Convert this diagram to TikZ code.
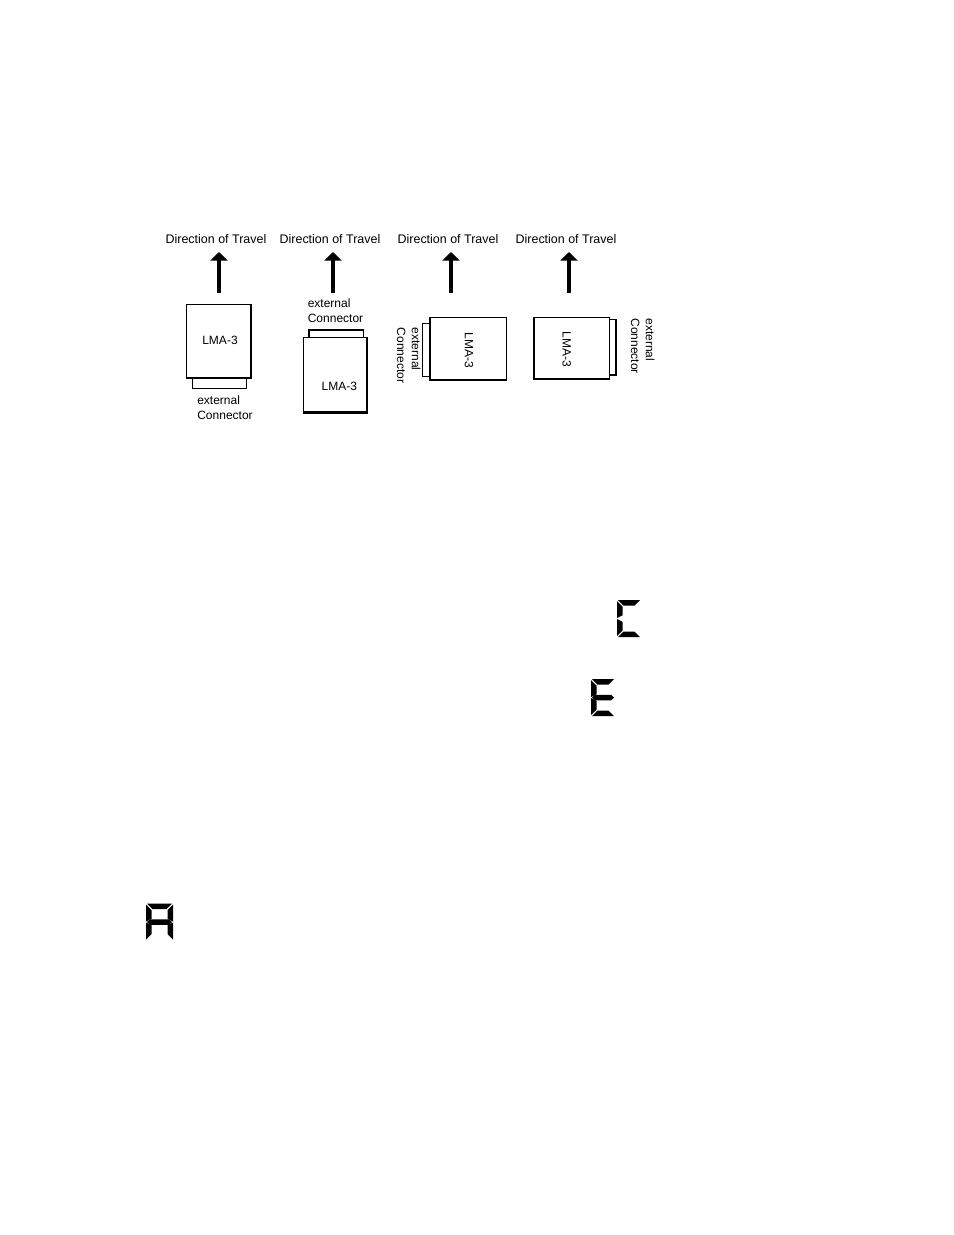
\documentclass[tikz,border=0pt]{standalone}
\usepackage{fontspec}
\setmainfont{Liberation Sans}
\usetikzlibrary{arrows.meta}
\tikzset{
    travel/.style={line width=2.1pt,-{Triangle[length=5.5pt,width=11pt]}},
    caption/.style={font=\fontsize{8}{9.6}\selectfont,inner sep=0pt},
    conntext/.style={font=\fontsize{7.7}{9.6}\selectfont,inner sep=0pt,align=left},
    housing/.style={draw=black,fill=white,line width=0.7pt},
    heavyedge/.style={line width=1.4pt},
    segment/.style={fill=black}
}
% seven segment parts, local frame (needs \segW, \segH, \segT)
\newcommand{\sega}{\fill[segment] (1,0) -- (\segW-1,0) -- (\segW-1-\segT,\segT) -- (1+\segT,\segT) -- cycle;}
\newcommand{\segd}{\fill[segment] (1,\segH) -- (\segW-1,\segH) -- (\segW-1-\segT,\segH-\segT) -- (1+\segT,\segH-\segT) -- cycle;}
\newcommand{\segf}{\fill[segment] (0,1) -- (\segT,1+\segT) -- (\segT,\segH/2-\segT/2-0.5) -- (0,\segH/2-0.5) -- cycle;}
\newcommand{\sege}{\fill[segment] (0,\segH/2+0.5) -- (\segT,\segH/2+\segT/2+0.5) -- (\segT,\segH-1-\segT) -- (0,\segH-1) -- cycle;}
\newcommand{\segb}{\fill[segment] (\segW,1) -- (\segW-\segT,1+\segT) -- (\segW-\segT,\segH/2-\segT/2-0.5) -- (\segW,\segH/2-0.5) -- cycle;}
\newcommand{\segc}{\fill[segment] (\segW,\segH/2+0.5) -- (\segW-\segT,\segH/2+\segT/2+0.5) -- (\segW-\segT,\segH-1-\segT) -- (\segW,\segH-1) -- cycle;}
\newcommand{\segg}{\fill[segment] (1,\segH/2) -- (1+\segT/2,\segH/2-\segT/2) -- (\segW-1-\segT/2,\segH/2-\segT/2) -- (\segW-1,\segH/2) -- (\segW-1-\segT/2,\segH/2+\segT/2) -- (1+\segT/2,\segH/2+\segT/2) -- cycle;}
\begin{document}
\begin{tikzpicture}[x=0.6415pt,y=-0.6415pt]
\useasboundingbox (0,0) rectangle (954,1235);

% direction labels and arrows
\foreach \x/\n in {219/1,333/2,451/3,569/4}{
    \node[caption] (dir\n) at (\x-3,239.5) {Direction of Travel};
    \coordinate (tip\n) at (\x,252);
    \coordinate (foot\n) at (\x,293);
    \draw[travel] (foot\n) -- (tip\n);
}

% module 1, connector below
\draw[housing] (192.3,376) rectangle (246.7,388.3);
\draw[housing] (186.7,304.3) rectangle (251,378.3);
\draw[heavyedge] (186.7,378) -- (251.3,378);
\node[conntext] (lma1) at (220,340.7) {LMA-3};
\node[conntext,anchor=west] (ext1) at (197,408) {external\\Connector};

% module 2, connector above
\draw[housing] (309,330) rectangle (363.3,340);
\draw[housing] (303.3,337.3) rectangle (367.7,412.7);
\draw[heavyedge] (367.4,337.3) -- (367.4,412.4) -- (303.3,412.4);
\node[conntext] (lma2) at (339.3,386) {LMA-3};
\node[conntext,anchor=west] (ext2) at (307.5,310.5) {external\\Connector};

% module 3, connector left
\draw[housing] (422.3,323.3) rectangle (432,376.7);
\draw[housing] (430,317.3) rectangle (506.7,380);
\draw[heavyedge] (430,379.7) -- (507,379.7);
\node[conntext,rotate=-90] (lma3) at (469,350) {LMA-3};
\node[conntext,rotate=-90,anchor=north west] (ext3) at (421,327.5) {external\\Connector};

% module 4, connector right
\draw[housing] (607,319.3) rectangle (616.7,374.3);
\draw[housing] (534,317.3) rectangle (609.3,379);
\draw[heavyedge] (534,378.7) -- (609.6,378.7);
\draw[heavyedge] (616.4,319.3) -- (616.4,374.6) -- (609.3,374.6);
\node[conntext,rotate=-90] (lma4) at (566.7,349) {LMA-3};
\node[conntext,rotate=-90,anchor=north west] (ext4) at (655,318.3) {external\\Connector};

% display letters
\begin{scope}[shift={(617,600)}]
    \def\segW{24}\def\segH{37}\def\segT{5.5}
    \foreach \s in {a,d,e,f} {\csname seg\s\endcsname}
\end{scope}
\begin{scope}[shift={(591,679)}]
    \def\segW{24}\def\segH{37}\def\segT{5.5}
    \foreach \s in {a,d,e,f,g} {\csname seg\s\endcsname}
\end{scope}
\begin{scope}[shift={(146,903.5)}]
    \def\segW{27}\def\segH{37}\def\segT{5.5}
    \foreach \s in {a,b,c,e,f,g} {\csname seg\s\endcsname}
\end{scope}
\end{tikzpicture}
\end{document}
